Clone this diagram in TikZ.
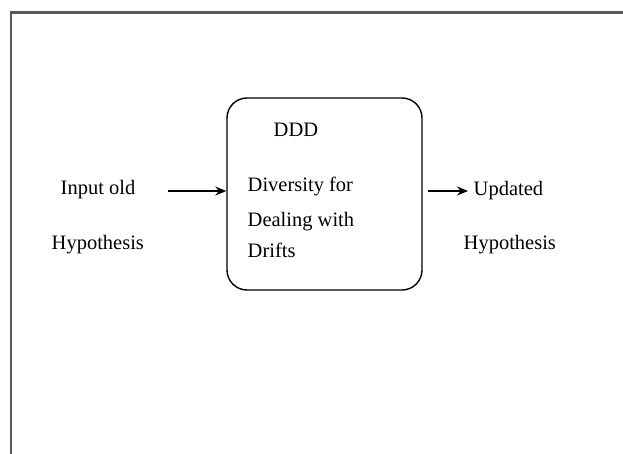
\documentclass[tikz,border=0pt]{standalone}
\usepackage{fontspec}
\setmainfont{Liberation Serif}
\usetikzlibrary{arrows.meta, positioning}
\tikzset{>=Stealth}
\tikzset{txt/.style={anchor=base west, inner sep=0pt}}

\begin{document}
\begin{tikzpicture}[x=1pt, y=-1pt, >={Stealth[length=11pt,width=9pt]}, line width=1.4pt, font=\fontsize{20.5}{24}\selectfont]
    \useasboundingbox (0,0) rectangle (623,454);
    \draw[black!65, line width=2.2pt](11,454)--(11,12.5)--(623,12.5);
    
    \node[draw, rounded corners=20pt, minimum width=195pt, minimum height=192pt](ddd) at (324.5,194){};
    \node[txt](ddd name) at (273,137){DDD};
    \node[txt](line1) at (247,192){Diversity for};
    \node[txt](line2) at (247,226){Dealing with};
    \node[txt](line3) at (247,258){Drifts};
    
    \node[txt](input) at (60,195){Input old};
    \node[txt](inhyp) at (51,249){Hypothesis};
    \node[txt](updated) at (473,196){Updated};
    \node[txt](outhyp) at (463,249){Hypothesis};
    
    \coordinate(in start) at (168,191);
    \draw[->](in start)--(in start -| ddd.west);
    \draw[->, shorten <=5pt, shorten >=5pt](in start -| ddd.east)--(in start -| updated.west);
\end{tikzpicture}
\end{document}
